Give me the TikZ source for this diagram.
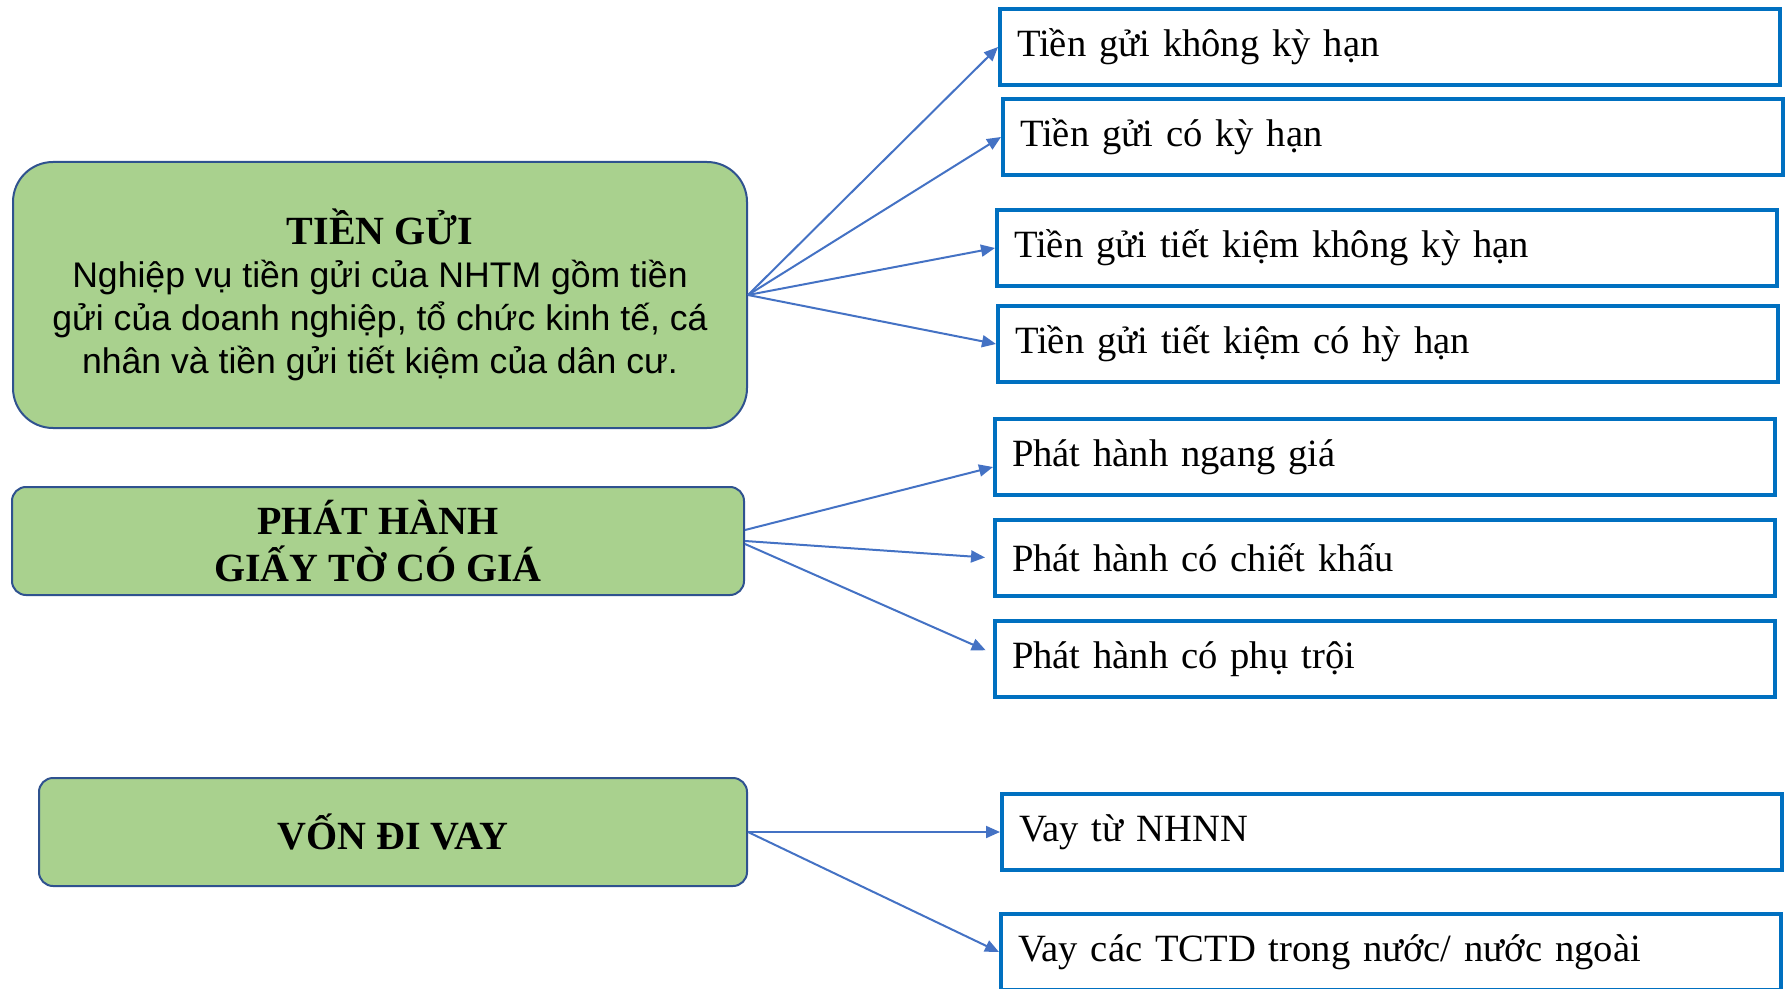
\documentclass[tikz,border=0pt]{standalone}
\usepackage{fontspec}
\setmainfont{Liberation Serif}
\newfontfamily\arialfont{Liberation Sans}
\usetikzlibrary{arrows.meta}

\definecolor{groupgreen}{HTML}{A9D18E}
\definecolor{groupline}{HTML}{2F528F}
\definecolor{leafblue}{HTML}{0070C0}
\definecolor{arrowblue}{HTML}{4472C4}

\begin{document}
\begin{tikzpicture}[x=0.5pt, y=-0.5pt,
  group/.style={rectangle, draw=groupline, line width=1pt, fill=groupgreen, rounded corners=7pt, align=center, font=\bfseries\fontsize{20}{23.5}\selectfont},
  leaf/.style={rectangle, draw=leafblue, line width=2pt, text width=373pt, inner xsep=8.5pt, minimum height=38pt, align=left, font=\fontsize{19.3}{24}\selectfont},
  arrow/.style={-{Triangle[length=7pt,width=6pt]}, draw=arrowblue, line width=1pt}
]
  \useasboundingbox (0,0) rectangle (1787,989);
  % left column
  \node[group, rounded corners=20pt, minimum width=367pt, minimum height=133pt, font=\arialfont\fontsize{17.8}{21.5}\selectfont] (deposit) at (380,295)
    {{\rmfamily\bfseries\fontsize{20}{21.5}\selectfont TIỀN GỬI}\\Nghiệp vụ tiền gửi của NHTM gồm tiền\\gửi của doanh nghiệp, tổ chức kinh tế, cá\\nhân và tiền gửi tiết kiệm của dân cư.};
  \node[group, minimum width=366pt, minimum height=54pt] (issue) at (378,541) {PHÁT HÀNH\\GIẤY TỜ CÓ GIÁ};
  \node[group, minimum width=354pt, minimum height=54pt] (borrow) at (393,832) {VỐN ĐI VAY};
  % right column
  \node[leaf] (demand) at (1390,47) {Tiền gửi không kỳ hạn};
  \node[leaf] (term) at (1393,137) {Tiền gửi có kỳ hạn};
  \node[leaf] (savdemand) at (1387,248) {Tiền gửi tiết kiệm không kỳ hạn};
  \node[leaf] (savterm) at (1388,344) {Tiền gửi tiết kiệm có hỳ hạn};
  \node[leaf] (par) at (1385,457) {Phát hành ngang giá};
  \node[leaf] (discount) at (1385,558) {Phát hành có chiết khấu};
  \node[leaf] (premium) at (1385,659) {Phát hành có phụ trội};
  \node[leaf] (central) at (1392,832) {Vay từ NHNN};
  \node[leaf] (banks) at (1391,952) {Vay các TCTD trong nước/ nước ngoài};
  % connectors
  \draw[arrow] (deposit.east) -- (demand.west);
  \draw[arrow] (deposit.east) -- (term.west);
  \draw[arrow] (deposit.east) -- (savdemand.west);
  \draw[arrow] (deposit.east) -- (savterm.west);
  \draw[arrow] ([yshift=5.5pt]issue.east) -- ([yshift=-5pt]par.west);
  \draw[arrow, shorten >=4pt] (issue.east) -- (discount.west);
  \draw[arrow, shorten >=4pt] ([yshift=-1.5pt]issue.east) -- ([yshift=2.75pt]premium.west);
  \draw[arrow] (borrow.east) -- (central.west);
  \draw[arrow] (borrow.east) -- (banks.west);
\end{tikzpicture}
\end{document}
